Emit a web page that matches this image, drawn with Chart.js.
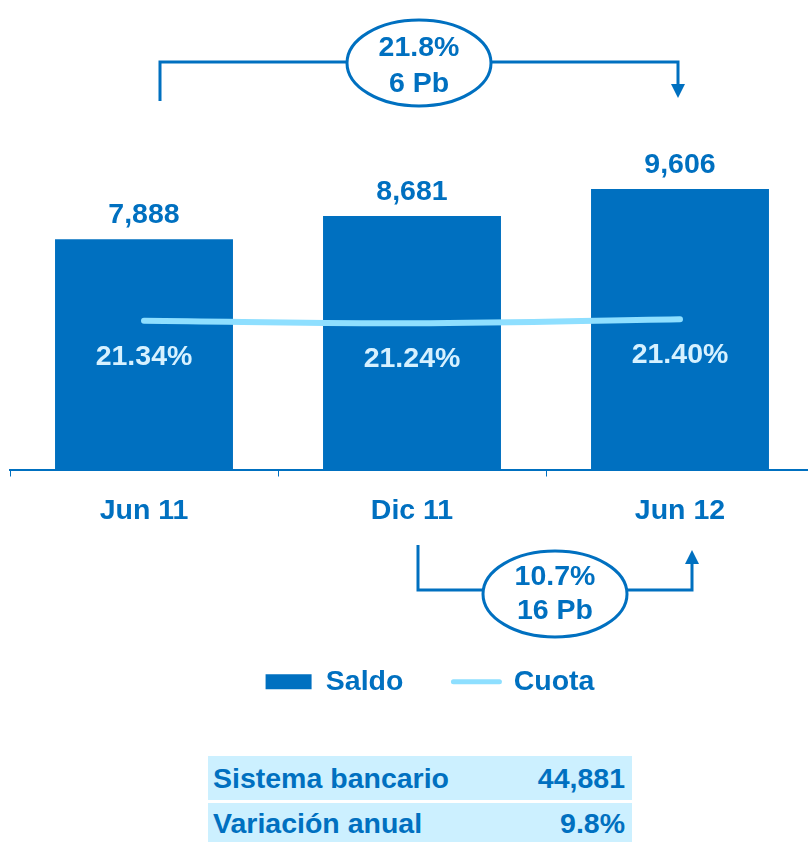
<!DOCTYPE html>
<html>
<head>
<meta charset="utf-8">
<script src="https://cdn.jsdelivr.net/npm/chart.js@4/dist/chart.umd.min.js"></script>
<style>
  body { margin: 0; background: #fff; overflow: hidden; font-family: "Liberation Sans", Arial, sans-serif; }
  #wrap { position: relative; width: 816px; height: 842px; }
  #tabla { position: absolute; left: 208px; top: 756px; width: 424px; }
  .fila { background: #CCF0FF; color: #0070C0; font-weight: bold; font-size: 28.5px;
          display: flex; justify-content: space-between; align-items: center; padding: 0 7px 0 5px; box-sizing: border-box; }
</style>
</head>
<body>
<div id="wrap">
  <canvas id="grafico" width="816" height="706"></canvas>
  <div id="tabla"></div>
</div>
<script>
const categorias = ["Jun 11", "Dic 11", "Jun 12"];
const saldo = [7888, 8681, 9606];
const cuota = [21.34, 21.24, 21.40];
// textos de las llaves: [crecimiento, puntos base]
const llaveAnual = ["21.8%", "6 Pb"];
const llaveSemestral = ["10.7%", "16 Pb"];
const tablaEtiquetas = ["Sistema bancario", "Variación anual"];
const tablaValores = ["44,881", "9.8%"];

const azul = '#0070C0';
const celeste = '#8EDFFF';
const fuente = '"Liberation Sans", Arial, sans-serif';
const tam = 28.5;

//tabla de abajo
let tabla = document.getElementById('tabla');
for (let i = 0; i < tablaEtiquetas.length; i++) {
  let f = document.createElement('div');
  f.className = 'fila';
  f.style.height = (i == 0 ? 44 : 40) + 'px';
  f.style.marginBottom = '3px';
  f.innerHTML = '<span>' + tablaEtiquetas[i] + '</span><span>' + tablaValores[i] + '</span>';
  tabla.appendChild(f);
}

function llave(ctx, xL, xR, yLinea, yIzq, yDer, cy, textos, ty) {
  ctx.save();
  ctx.strokeStyle = azul;
  ctx.fillStyle = azul;
  ctx.lineWidth = 3;
  let dir = yDer > yLinea ? 1 : -1;
  ctx.beginPath();
  ctx.moveTo(xL, yIzq);
  ctx.lineTo(xL, yLinea);
  ctx.lineTo(xR, yLinea);
  ctx.lineTo(xR, yDer - dir * 12);
  ctx.stroke();
  // punta de flecha
  ctx.beginPath();
  ctx.moveTo(xR - 7, yDer - dir * 14);
  ctx.lineTo(xR + 7, yDer - dir * 14);
  ctx.lineTo(xR, yDer);
  ctx.closePath();
  ctx.fill();
  // ovalo
  let cx = (xL + xR) / 2;
  ctx.beginPath();
  ctx.ellipse(cx, cy, 72, 43, 0, 0, Math.PI * 2);
  ctx.fillStyle = '#fff';
  ctx.fill();
  ctx.stroke();
  ctx.fillStyle = azul;
  ctx.font = 'bold ' + tam + 'px ' + fuente;
  ctx.textAlign = 'center';
  ctx.textBaseline = 'middle';
  ctx.fillText(textos[0], cx, ty[0]);
  ctx.fillText(textos[1], cx, ty[1]);
  ctx.restore();
}

const etiquetas = {
  id: 'etiquetas',
  afterLayout(chart) {
    // la leyenda original esta algo corrida a la derecha
    chart.legend.left += 36;
  },
  afterDatasetsDraw(chart) {
    const ctx = chart.ctx;
    const barras = chart.getDatasetMeta(0).data;
    const puntos = chart.getDatasetMeta(1).data;
    ctx.save();
    ctx.font = 'bold ' + tam + 'px ' + fuente;
    ctx.textAlign = 'center';
    ctx.textBaseline = 'middle';
    for (let i = 0; i < barras.length; i++) {
      ctx.fillStyle = azul;
      ctx.fillText(saldo[i].toLocaleString('en-US'), barras[i].x, barras[i].y - 24);
      ctx.fillStyle = '#D6F1FF';
      ctx.fillText(cuota[i].toFixed(2) + '%', barras[i].x, puntos[i].y + 36);
    }
    ctx.restore();
  },
  afterDraw(chart) {
    const x = chart.scales.x;
    const ctx = chart.ctx;
    llave(ctx, x.getPixelForValue(0) + 16, x.getPixelForValue(2) - 2, 62, 101, 98, 63, llaveAnual, [48, 84]);
    llave(ctx, x.getPixelForValue(1) + 6, x.getPixelForValue(2) + 12, 590, 545, 550, 594, llaveSemestral, [577, 611]);
  }
};

new Chart(document.getElementById('grafico'), {
  type: 'bar',
  data: {
    labels: categorias,
    datasets: [{
      label: 'Saldo',
      data: saldo,
      backgroundColor: azul,
      categoryPercentage: 1,
      barPercentage: 0.664,
      yAxisID: 'y',
      order: 2
    }, {
      type: 'line',
      label: 'Cuota',
      data: cuota,
      borderColor: celeste,
      borderWidth: 6,
      borderCapStyle: 'round',
      pointRadius: 0,
      tension: 0.4,
      yAxisID: 'y1',
      order: 1
    }]
  },
  plugins: [etiquetas],
  options: {
    responsive: false,
    animation: false,
    layout: { padding: { left: 10, right: 2, top: 130, bottom: 0 } },
    plugins: {
      tooltip: { enabled: false },
      legend: {
        position: 'bottom',
        labels: {
          usePointStyle: true,
          pointStyleWidth: 46,
          boxHeight: 15,
          padding: 50,
          color: azul,
          font: { family: fuente, size: tam, weight: 'bold' },
          generateLabels: () => [
            { text: 'Saldo', fillStyle: azul, strokeStyle: azul, lineWidth: 0, pointStyle: 'rect', datasetIndex: 0, fontColor: azul },
            { text: 'Cuota', fillStyle: celeste, strokeStyle: celeste, lineWidth: 5, lineCap: 'round', pointStyle: 'line', datasetIndex: 1, fontColor: azul }
          ]
        }
      }
    },
    scales: {
      x: {
        grid: { display: true, drawOnChartArea: false, drawTicks: true, tickLength: 7, color: azul, lineWidth: 1 },
        border: { display: true, color: azul, width: 2 },
        ticks: { color: azul, padding: 18, font: { family: fuente, size: tam, weight: 'bold' } },
        afterFit: (scale) => { scale.height = 148; }
      },
      y: { display: false, min: 0, max: 11630 },
      y1: { display: false, min: 15.38, max: 28.98 }
    }
  }
});
</script>
</body>
</html>
